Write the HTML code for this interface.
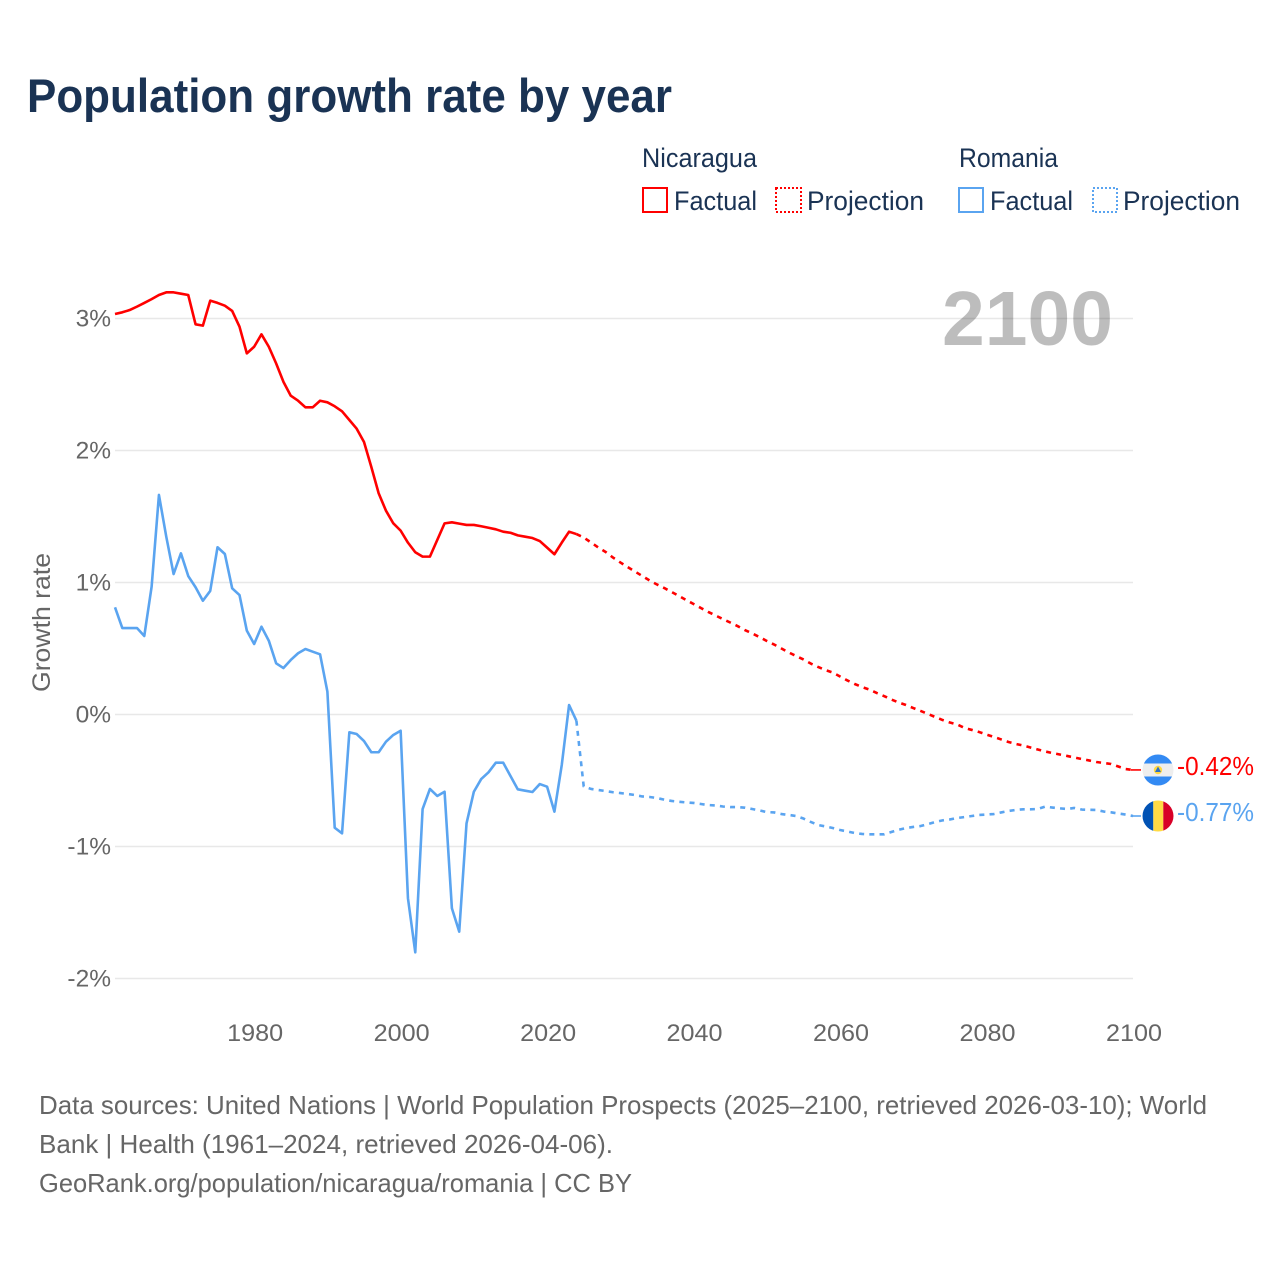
<!DOCTYPE html>
<html lang="en">
<head>
<meta charset="utf-8">
<title>Population growth rate by year</title>
<style>
  html, body { margin: 0; padding: 0; background: #ffffff; }
  svg { display: block; }
  text { font-family: "Liberation Sans", sans-serif; }
</style>
</head>
<body>
<svg id="chart" xmlns="http://www.w3.org/2000/svg" width="1280" height="1280" viewBox="0 0 1280 1280">
  <defs>
    <clipPath id="flag-clip-ni"><circle cx="1158" cy="770" r="15.5"/></clipPath>
    <clipPath id="flag-clip-ro"><circle cx="1158" cy="816" r="15.5"/></clipPath>
  </defs>
  <rect x="0" y="0" width="1280" height="1280" fill="#ffffff"/>

  <text x="27" y="112" font-size="47" font-weight="700" fill="#1a3354" textLength="645" lengthAdjust="spacingAndGlyphs">Population growth rate by year</text>

  <g font-size="26.5" fill="#1a3354">
    <text x="642" y="167" textLength="115" lengthAdjust="spacingAndGlyphs">Nicaragua</text>
    <text x="959" y="167" textLength="99" lengthAdjust="spacingAndGlyphs">Romania</text>
    <rect x="643" y="188" width="24" height="24" fill="none" stroke="#ff0000" stroke-width="2"/>
    <text x="674" y="210" textLength="83" lengthAdjust="spacingAndGlyphs">Factual</text>
    <rect x="776" y="188" width="25" height="24" fill="none" stroke="#ff0000" stroke-width="2" stroke-dasharray="2 2"/>
    <text x="807" y="210" textLength="117" lengthAdjust="spacingAndGlyphs">Projection</text>
    <rect x="959" y="188" width="24" height="24" fill="none" stroke="#5aa4f0" stroke-width="2"/>
    <text x="990" y="210" textLength="83" lengthAdjust="spacingAndGlyphs">Factual</text>
    <rect x="1093" y="188" width="24" height="24" fill="none" stroke="#5aa4f0" stroke-width="2" stroke-dasharray="2 2"/>
    <text x="1123" y="210" textLength="117" lengthAdjust="spacingAndGlyphs">Projection</text>
  </g>

  <g id="grid"></g>
  <text x="942" y="345" font-size="77" font-weight="700" fill="#000000" fill-opacity="0.26" textLength="171" lengthAdjust="spacingAndGlyphs">2100</text>
  <g id="y-ticks"></g>
  <g id="x-ticks"></g>
  <text transform="translate(50 622.5) rotate(-90)" text-anchor="middle" font-size="25" fill="#666666" textLength="139" lengthAdjust="spacingAndGlyphs">Growth rate</text>

  <g id="series"></g>

  <g clip-path="url(#flag-clip-ni)">
    <rect x="1142" y="754" width="32" height="32" fill="#eeeeee"/>
    <rect x="1142" y="754" width="32" height="9.5" fill="#338af3"/>
    <rect x="1142" y="776.5" width="32" height="9.5" fill="#338af3"/>
    <circle cx="1158" cy="770" r="4.2" fill="#ffda44"/>
    <polygon points="1158,766.5 1161,772 1155,772" fill="#2e6fc4"/>
  </g>
  <g clip-path="url(#flag-clip-ro)">
    <rect x="1142" y="800" width="11.3" height="32" fill="#0052b4"/>
    <rect x="1153.3" y="800" width="10" height="32" fill="#ffda44"/>
    <rect x="1163.3" y="800" width="10.7" height="32" fill="#d80027"/>
  </g>
  <text x="1177" y="775" font-size="26" fill="#ff0000" textLength="77" lengthAdjust="spacingAndGlyphs">-0.42%</text>
  <text x="1177" y="821" font-size="26" fill="#5aa4f0" textLength="77" lengthAdjust="spacingAndGlyphs">-0.77%</text>

  <g font-size="26" fill="#666666">
    <text x="39" y="1114" textLength="1168" lengthAdjust="spacingAndGlyphs">Data sources: United Nations | World Population Prospects (2025–2100, retrieved 2026-03-10); World</text>
    <text x="39" y="1153" textLength="574" lengthAdjust="spacingAndGlyphs">Bank | Health (1961–2024, retrieved 2026-04-06).</text>
    <text x="39" y="1192" textLength="593" lengthAdjust="spacingAndGlyphs">GeoRank.org/population/nicaragua/romania | CC BY</text>
  </g>
</svg>

<script>
const factualStartYear = 1961;
const projectionStartYear = 2025;
const yTicks = [3, 2, 1, 0, -1, -2];
const yTickLabels = ['3%', '2%', '1%', '0%', '-1%', '-2%'];
const xTicks = [1980, 2000, 2020, 2040, 2060, 2080, 2100];
const xTickLabels = ['1980', '2000', '2020', '2040', '2060', '2080', '2100'];

const nicaraguaFactual = [
  3.034, 3.047, 3.064, 3.09, 3.118, 3.147, 3.178, 3.198, 3.198, 3.188,
  3.178, 2.956, 2.946, 3.135, 3.118, 3.097, 3.057, 2.938, 2.736, 2.786,
  2.88, 2.786, 2.66, 2.52, 2.415, 2.377, 2.327, 2.327, 2.377, 2.365,
  2.335, 2.297, 2.231, 2.165, 2.064, 1.875, 1.676, 1.544, 1.448, 1.393,
  1.302, 1.229, 1.196, 1.196, 1.322, 1.448, 1.456, 1.446, 1.436, 1.436,
  1.426, 1.415, 1.403, 1.385, 1.377, 1.357, 1.347, 1.337, 1.314, 1.264,
  1.214, 1.302, 1.385, 1.367
];
const nicaraguaProjection = [
  1.341, 1.303, 1.265, 1.231, 1.189, 1.152, 1.117, 1.083, 1.049, 1.015,
  0.985, 0.958, 0.928, 0.898, 0.867, 0.837, 0.807, 0.777, 0.75, 0.723,
  0.697, 0.67, 0.64, 0.614, 0.587, 0.557, 0.53, 0.5, 0.47, 0.443,
  0.417, 0.386, 0.36, 0.337, 0.318, 0.288, 0.258, 0.231, 0.208, 0.189,
  0.163, 0.14, 0.114, 0.091, 0.072, 0.049, 0.027, 0.004, -0.019, -0.042,
  -0.061, -0.076, -0.102, -0.117, -0.133, -0.152, -0.17, -0.189, -0.208, -0.223,
  -0.235, -0.25, -0.265, -0.28, -0.292, -0.303, -0.314, -0.326, -0.337, -0.348,
  -0.36, -0.367, -0.375, -0.394, -0.413, -0.42
];
const romaniaFactual = [
  0.812, 0.655, 0.655, 0.655, 0.595, 0.968, 1.663, 1.347, 1.064, 1.221,
  1.049, 0.964, 0.862, 0.936, 1.267, 1.216, 0.956, 0.905, 0.635, 0.534,
  0.665, 0.559, 0.388, 0.352, 0.413, 0.464, 0.496, 0.476, 0.456, 0.173,
  -0.858, -0.9, -0.135, -0.148, -0.201, -0.286, -0.286, -0.206, -0.155, -0.123,
  -1.392, -1.802, -0.716, -0.564, -0.617, -0.585, -1.468, -1.645, -0.824, -0.585,
  -0.489, -0.438, -0.365, -0.365, -0.466, -0.567, -0.577, -0.587, -0.527, -0.547,
  -0.736, -0.383, 0.072, -0.047
];
const romaniaProjection = [
  -0.545, -0.564, -0.572, -0.58, -0.589, -0.595, -0.602, -0.61, -0.621, -0.625,
  -0.633, -0.645, -0.655, -0.661, -0.666, -0.67, -0.678, -0.686, -0.689, -0.697,
  -0.701, -0.701, -0.706, -0.716, -0.727, -0.739, -0.742, -0.754, -0.761, -0.769,
  -0.788, -0.814, -0.837, -0.848, -0.86, -0.875, -0.886, -0.898, -0.905, -0.908,
  -0.908, -0.908, -0.89, -0.873, -0.86, -0.852, -0.845, -0.83, -0.814, -0.802,
  -0.795, -0.784, -0.777, -0.769, -0.761, -0.758, -0.754, -0.742, -0.731, -0.723,
  -0.718, -0.718, -0.716, -0.698, -0.705, -0.711, -0.716, -0.708, -0.72, -0.722,
  -0.723, -0.735, -0.741, -0.75, -0.758, -0.769
];

const SVG_NS = 'http://www.w3.org/2000/svg';
const plotLeft = 115;
const plotRight = 1133;
const connectorEnd = 1141;
const RED = '#ff0000';
const BLUE = '#5aa4f0';

function xScale(year) {
  return plotLeft + (year - 1961) * (plotRight - plotLeft) / (2100 - 1961);
}
function yScale(value) {
  return 714.5 - value * 132;
}
function points(values, startYear) {
  return values.map(function (v, i) {
    return xScale(startYear + i).toFixed(2) + ',' + yScale(v).toFixed(2);
  });
}

const gridGroup = document.getElementById('grid');
const yTickGroup = document.getElementById('y-ticks');
const xTickGroup = document.getElementById('x-ticks');
const seriesGroup = document.getElementById('series');

yTicks.forEach(function (tick, i) {
  const line = document.createElementNS(SVG_NS, 'line');
  
  
  line.setAttribute('x1', plotLeft);
  line.setAttribute('x2', plotRight);
  line.setAttribute('y1', yScale(tick));
  line.setAttribute('y2', yScale(tick));
  line.setAttribute('stroke', '#e8e8e8');
  line.setAttribute('stroke-width', '1.5');
  gridGroup.appendChild(line);

  const label = document.createElementNS(SVG_NS, 'text');
  
  
  label.setAttribute('x', 111);
  label.setAttribute('y', yScale(tick) + 8);
  label.setAttribute('text-anchor', 'end');
  label.setAttribute('font-size', '24.5');
  label.setAttribute('fill', '#666666');
  label.textContent = yTickLabels[i];
  yTickGroup.appendChild(label);
});

xTicks.forEach(function (tick, i) {
  const label = document.createElementNS(SVG_NS, 'text');
  
  
  label.setAttribute('x', xScale(tick) + 1);
  label.setAttribute('y', 1041);
  label.setAttribute('text-anchor', 'middle');
  label.setAttribute('font-size', '24.5');
  label.setAttribute('fill', '#666666');
  label.setAttribute('textLength', '56');
  label.setAttribute('lengthAdjust', 'spacingAndGlyphs');
  label.textContent = xTickLabels[i];
  xTickGroup.appendChild(label);
});

function addLine(name, pts, color, dashed) {
  const line = document.createElementNS(SVG_NS, 'polyline');
  
  
  line.setAttribute('points', pts.join(' '));
  line.setAttribute('fill', 'none');
  line.setAttribute('stroke', color);
  line.setAttribute('stroke-width', '2.6');
  line.setAttribute('stroke-linejoin', 'round');
  if (dashed) {
    line.setAttribute('stroke-dasharray', '5 5.2');
  }
  seriesGroup.appendChild(line);
}

function addConnector(name, value, color) {
  const line = document.createElementNS(SVG_NS, 'line');
  
  
  line.setAttribute('x1', plotRight - 2);
  line.setAttribute('x2', connectorEnd);
  line.setAttribute('y1', yScale(value));
  line.setAttribute('y2', yScale(value));
  line.setAttribute('stroke', color);
  line.setAttribute('stroke-width', '1.6');
  seriesGroup.appendChild(line);
}

addLine('romania-factual-line', points(romaniaFactual, factualStartYear), BLUE, false);
addLine('romania-projection-line',
  points(romaniaFactual.slice(-1), 2024).concat(points(romaniaProjection, projectionStartYear)), BLUE, true);
addLine('nicaragua-factual-line', points(nicaraguaFactual, factualStartYear), RED, false);
addLine('nicaragua-projection-line',
  points(nicaraguaFactual.slice(-1), 2024).concat(points(nicaraguaProjection, projectionStartYear)), RED, true);
addConnector('romania-end-connector', romaniaProjection[romaniaProjection.length - 1], BLUE);
addConnector('nicaragua-end-connector', nicaraguaProjection[nicaraguaProjection.length - 1], RED);
</script>
</body>
</html>
